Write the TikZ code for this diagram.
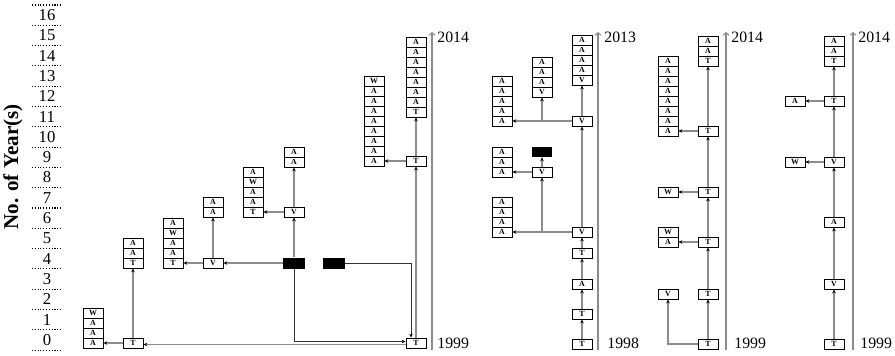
\documentclass[tikz,border=0pt]{standalone}
\usepackage{fontspec}
\setmainfont{Liberation Serif}
\usetikzlibrary{arrows.meta,shadows}

\tikzset{
  cell/.style={draw, fill=white, line width=0.5pt, minimum width=0.4cm,
    minimum height=0.2cm, inner sep=0pt,
    font=\fontsize{4.5}{5}\selectfont\bfseries,
    drop shadow={shadow xshift=0.75pt, shadow yshift=-0.75pt, fill=black, opacity=1}},
  blackbox/.style={fill=black, minimum width=0.44cm, minimum height=0.22cm, inner sep=0pt},
  link/.style={draw=black!45, line width=0.6pt, -{Stealth[black,length=2.2pt,width=2pt]}},
  darklink/.style={link, draw=black!80, line width=0.5pt},
  timeline/.style={draw=black!45, line width=0.6pt, -{Straight Barb[length=1.5pt,width=3.5pt]}},
  year/.style={font=\fontsize{9}{10}\selectfont, anchor=west, inner sep=0pt},
  tick/.style={line width=0.6pt, densely dotted},
}

% stack of cells, bottom cell first
\newcommand\cellstack[4]{%
  \foreach \lbl [count=\i from 0] in {#4}
    \node[cell] (#1-\i) at (#2,{#3-10*\i}) {\lbl};}

\begin{document}
\begin{tikzpicture}[x=0.02cm, y=-0.02cm]
  \useasboundingbox (0,0) rectangle (895,355);

  % axis
  \node[rotate=90, font=\fontsize{12}{14}\selectfont\bfseries] (ylab) at (13,167) {No. of Year(s)};
  \foreach \j in {0,...,17}
    \draw[tick] (32,{5+20.3*\j}) -- (61,{5+20.3*\j});
  \foreach \k in {0,...,16}
    \node[font=\fontsize{9.5}{10}\selectfont, inner sep=0pt] (n\k) at (47,{350-20.3*(\k+0.5)}) {\k};

  % group 1
  \node[cell] (t0) at (416,343) {T};
  \node[blackbox] (b1) at (294,263) {};
  \node[blackbox] (b2) at (334,263) {};
  \node[cell] (ta) at (133,343) {T};
  \node[cell] (va) at (213,263) {V};
  \node[cell] (vb) at (294,212) {V};
  \node[cell] (tb) at (416,161) {T};
  \cellstack{s1}{93}{343}{A,A,A,W}
  \cellstack{s2}{133}{263}{T,A,A}
  \cellstack{s3}{173}{263}{T,A,A,W,A}
  \cellstack{s4}{213}{212}{A,A}
  \cellstack{s5}{253}{212}{T,A,A,W,A}
  \cellstack{s6}{294}{162}{A,A}
  \cellstack{s7}{374}{161}{A,A,A,A,A,A,A,A,W}
  \cellstack{s8}{416}{112}{T,A,A,A,A,A,A,A}

  \draw[darklink] (b2.east) -| ([xshift=-0.1cm]t0.north);
  \draw[darklink] (b1.south) |- ([yshift=0.03cm]t0.west);
  \draw[link] ([yshift=-0.03cm]t0.west) -- ([yshift=-0.03cm]ta.east);
  \draw[link] (b1.west) -- (va.east);
  \draw[link] (b1.north) -- (vb.south);
  \draw[link] (t0.north) -- (tb.south);
  \draw[link] (ta.west) -- (s1-0.east);
  \draw[link] (ta.north) -- (s2-0.south);
  \draw[link] (va.west) -- (s3-0.east);
  \draw[link] (va.north) -- (s4-0.south);
  \draw[link] (vb.west) -- (s5-0.east);
  \draw[link] (vb.north) -- (s6-0.south);
  \draw[link] (tb.west) -- (s7-0.east);
  \draw[link] (tb.north) -- (s8-0.south);

  \draw[timeline] (432,350) -- (432,32);
  \node[year] (g1hi) at (437,37) {2014};
  \node[year] (g1lo) at (437,343) {1999};

  % group 2
  \node[cell] (u0) at (582,344) {T};
  \node[cell] (u1) at (582,314) {T};
  \node[cell] (u2) at (582,284) {A};
  \node[cell] (u3) at (582,253) {T};
  \node[cell] (u4) at (582,232) {V};
  \node[cell] (u5) at (582,121) {V};
  \node[cell] (uv) at (542,172) {V};
  \node[blackbox, minimum width=0.4cm, minimum height=0.2cm] (b3) at (542,152) {};
  \coordinate (j1) at (542,232);
  \coordinate (j2) at (542,121);
  \cellstack{r1}{502}{232}{A,A,A,A}
  \cellstack{r2}{502}{172}{A,A,A}
  \cellstack{r3}{502}{121}{A,A,A,A,A}
  \cellstack{r4}{542}{92}{V,A,A,A}
  \cellstack{r5}{582}{80}{V,A,A,A,A}

  \draw[link] (u0) -- (u1);
  \draw[link] (u1) -- (u2);
  \draw[link] (u2) -- (u3);
  \draw[link] (u3) -- (u4);
  \draw[link] (u4) -- (u5);
  \draw[link] (u4.west) -- (r1-0.east);
  \draw[link] (j1) -- (uv.south);
  \draw[link] (uv.west) -- (r2-0.east);
  \draw[link] (uv.north) -- (b3.south);
  \draw[link] (u5.west) -- (r3-0.east);
  \draw[link] (j2) -- (r4-0.south);
  \draw[link] (u5.north) -- (r5-0.south);

  \draw[timeline] (598,350) -- (598,32);
  \node[year] (g2hi) at (604,37) {2013};
  \node[year] (g2lo) at (607,343) {1998};

  % group 3
  \node[cell] (w0) at (708,344) {T};
  \node[cell] (w1) at (708,294) {T};
  \node[cell] (w2) at (708,242) {T};
  \node[cell] (w3) at (708,192) {T};
  \node[cell] (w4) at (708,131) {T};
  \node[cell] (wv) at (668,294) {V};
  \cellstack{q1}{668}{242}{A,W}
  \cellstack{q2}{668}{192}{W}
  \cellstack{q3}{668}{131}{A,A,A,A,A,A,A,A}
  \cellstack{q4}{708}{61}{T,A,A}

  \draw[link] (w0.west) -| (wv.south);
  \draw[link] (w0) -- (w1);
  \draw[link] (w1) -- (w2);
  \draw[link] (w2) -- (w3);
  \draw[link] (w3) -- (w4);
  \draw[link] (w4.north) -- (q4-0.south);
  \draw[link] (w2.west) -- (q1-0.east);
  \draw[link] (w3.west) -- (q2-0.east);
  \draw[link] (w4.west) -- (q3-0.east);

  \draw[timeline] (726,350) -- (726,32);
  \node[year] (g3hi) at (731,37) {2014};
  \node[year] (g3lo) at (734,343) {1999};

  % group 4
  \node[cell] (z0) at (834,344) {T};
  \node[cell] (z1) at (834,284) {V};
  \node[cell] (z2) at (834,222) {A};
  \node[cell] (z3) at (834,162) {V};
  \node[cell] (z4) at (834,101) {T};
  \cellstack{y1}{795}{162}{W}
  \cellstack{y2}{795}{101}{A}
  \cellstack{p1}{834}{61}{T,A,A}

  \draw[link] (z0) -- (z1);
  \draw[link] (z1) -- (z2);
  \draw[link] (z2) -- (z3);
  \draw[link] (z3) -- (z4);
  \draw[link] (z4.north) -- (p1-0.south);
  \draw[link] (z3.west) -- (y1-0.east);
  \draw[link] (z4.west) -- (y2-0.east);

  \draw[timeline] (853,350) -- (853,32);
  \node[year] (g4hi) at (858,37) {2014};
  \node[year] (g4lo) at (860,343) {1999};
\end{tikzpicture}
\end{document}
